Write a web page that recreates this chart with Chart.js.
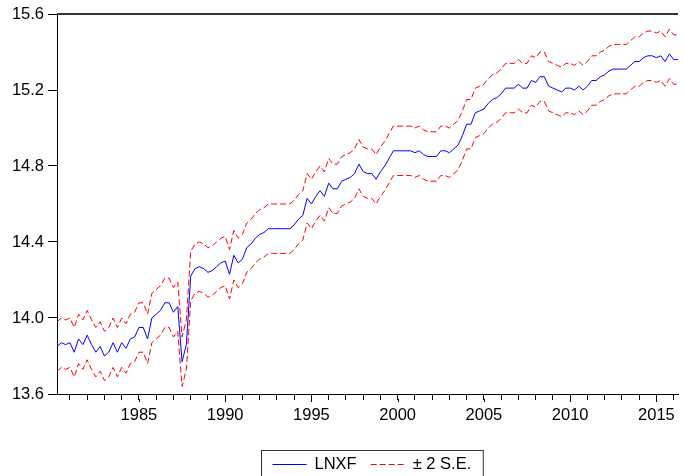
<!DOCTYPE html>
<html>
<head>
<meta charset="utf-8">
<title>LNXF forecast</title>
<script src="https://cdn.jsdelivr.net/npm/chart.js@4.4.1/dist/chart.umd.min.js"></script>
<style>
  html, body { margin: 0; padding: 0; background: #fff; }
  canvas { display: block; }
</style>
</head>
<body>
<canvas id="chart" width="684" height="476"></canvas>
<script>
// ── Data ────────────────────────────────────────────────────────────────────
// quarterly sample 1980Q2 .. 2016Q2
const firstYear = 1980, firstQ = 2, lastYear = 2016, lastQ = 2;
const quarters = [];
for (let y = firstYear, q = firstQ; y < lastYear || (y === lastYear && q <= lastQ);) {
    quarters.push(y + 'Q' + q);
    if (++q > 4) { q = 1; y++; }
}

const lnxf = [
    13.85, 13.87, 13.86, 13.87, 13.82, 13.89, 13.86, 13.91, 13.86, 13.82,
    13.85, 13.80, 13.82, 13.87, 13.82, 13.87, 13.84, 13.89, 13.90, 13.95,
    13.95, 13.89, 14.00, 14.02, 14.04, 14.08, 14.08, 14.03, 14.06, 13.77,
    13.86, 14.22, 14.26, 14.27, 14.26, 14.24, 14.25, 14.27, 14.29, 14.30,
    14.23, 14.33, 14.29, 14.31, 14.37, 14.39, 14.42, 14.44, 14.45, 14.47,
    14.47, 14.47, 14.47, 14.47, 14.47, 14.49, 14.52, 14.54, 14.63, 14.60,
    14.64, 14.67, 14.64, 14.71, 14.68, 14.68, 14.72, 14.73, 14.74, 14.76,
    14.81, 14.77, 14.76, 14.76, 14.73, 14.77, 14.80, 14.84, 14.88, 14.88,
    14.88, 14.88, 14.88, 14.87, 14.88, 14.86, 14.85, 14.85, 14.85, 14.88,
    14.88, 14.87, 14.89, 14.91, 14.96, 15.02, 15.02, 15.08, 15.09, 15.10,
    15.13, 15.15, 15.16, 15.18, 15.21, 15.21, 15.21, 15.23, 15.21, 15.21,
    15.25, 15.24, 15.27, 15.27, 15.22, 15.21, 15.20, 15.19, 15.21, 15.21,
    15.20, 15.22, 15.20, 15.22, 15.25, 15.25, 15.27, 15.28, 15.30, 15.31,
    15.31, 15.31, 15.31, 15.33, 15.35, 15.35, 15.37, 15.38, 15.38, 15.37,
    15.38, 15.35, 15.39, 15.36, 15.36
];

const upperBand = [
    13.98, 14.00, 13.99, 14.00, 13.95, 14.02, 13.99, 14.04, 13.99, 13.95,
    13.98, 13.93, 13.95, 14.00, 13.95, 14.00, 13.97, 14.02, 14.03, 14.08,
    14.08, 14.02, 14.13, 14.15, 14.17, 14.21, 14.21, 14.16, 14.19, 13.90,
    13.99, 14.35, 14.39, 14.40, 14.39, 14.37, 14.38, 14.40, 14.42, 14.43,
    14.36, 14.46, 14.42, 14.44, 14.50, 14.52, 14.55, 14.57, 14.58, 14.60,
    14.60, 14.60, 14.60, 14.60, 14.60, 14.62, 14.65, 14.67, 14.76, 14.73,
    14.77, 14.80, 14.77, 14.84, 14.81, 14.81, 14.85, 14.86, 14.87, 14.89,
    14.94, 14.90, 14.89, 14.89, 14.86, 14.90, 14.93, 14.97, 15.01, 15.01,
    15.01, 15.01, 15.01, 15.00, 15.01, 14.99, 14.98, 14.98, 14.98, 15.01,
    15.01, 15.00, 15.02, 15.04, 15.09, 15.15, 15.15, 15.21, 15.22, 15.23,
    15.26, 15.28, 15.29, 15.31, 15.34, 15.34, 15.34, 15.36, 15.34, 15.34,
    15.38, 15.37, 15.40, 15.40, 15.35, 15.34, 15.33, 15.32, 15.34, 15.34,
    15.33, 15.35, 15.33, 15.35, 15.38, 15.38, 15.40, 15.41, 15.43, 15.44,
    15.44, 15.44, 15.44, 15.46, 15.48, 15.48, 15.50, 15.51, 15.51, 15.50,
    15.51, 15.48, 15.52, 15.49, 15.49
];

const lowerBand = [
    13.72, 13.74, 13.73, 13.74, 13.69, 13.76, 13.73, 13.78, 13.73, 13.69,
    13.72, 13.67, 13.69, 13.74, 13.69, 13.74, 13.71, 13.76, 13.77, 13.82,
    13.82, 13.76, 13.87, 13.89, 13.91, 13.95, 13.95, 13.90, 13.93, 13.64,
    13.73, 14.09, 14.13, 14.14, 14.13, 14.11, 14.12, 14.14, 14.16, 14.17,
    14.10, 14.20, 14.16, 14.18, 14.24, 14.26, 14.29, 14.31, 14.32, 14.34,
    14.34, 14.34, 14.34, 14.34, 14.34, 14.36, 14.39, 14.41, 14.50, 14.47,
    14.51, 14.54, 14.51, 14.58, 14.55, 14.55, 14.59, 14.60, 14.61, 14.63,
    14.68, 14.64, 14.63, 14.63, 14.60, 14.64, 14.67, 14.71, 14.75, 14.75,
    14.75, 14.75, 14.75, 14.74, 14.75, 14.73, 14.72, 14.72, 14.72, 14.75,
    14.75, 14.74, 14.76, 14.78, 14.83, 14.89, 14.89, 14.95, 14.96, 14.97,
    15.00, 15.02, 15.03, 15.05, 15.08, 15.08, 15.08, 15.10, 15.08, 15.08,
    15.12, 15.11, 15.14, 15.14, 15.09, 15.08, 15.07, 15.06, 15.08, 15.08,
    15.07, 15.09, 15.07, 15.09, 15.12, 15.12, 15.14, 15.15, 15.17, 15.18,
    15.18, 15.18, 15.18, 15.20, 15.22, 15.22, 15.24, 15.25, 15.25, 15.24,
    15.25, 15.22, 15.26, 15.23, 15.23
];

const yTicks = [13.6, 14.0, 14.4, 14.8, 15.2, 15.6];

// ── Plugins ─────────────────────────────────────────────────────────────────

const FONT = "'Liberation Sans', Arial, sans-serif";

const isMajor = lbl => lbl.endsWith('Q1') && parseInt(lbl, 10) % 5 === 0;

// top frame line + slightly longer ticks at the labelled years
const frame = {
    id: 'frame',
    afterDraw(chart) {
        const { ctx, chartArea: a } = chart;
        const xs = chart.scales.x;
        ctx.save();
        ctx.strokeStyle = '#333';
        ctx.lineWidth = 2;
        ctx.beginPath();
        ctx.moveTo(a.left, a.top);
        ctx.lineTo(a.right, a.top);
        ctx.stroke();

        ctx.strokeStyle = '#000';
        ctx.lineWidth = 1;
        ctx.beginPath();
        quarters.forEach((q, i) => {
            if (!isMajor(q)) return;
            const px = Math.round(xs.getPixelForValue(i)) + 0.5;
            ctx.moveTo(px, a.bottom + 5);
            ctx.lineTo(px, a.bottom + 8);
        });
        ctx.stroke();
        ctx.restore();
    }
};

// boxed legend under the axis, one entry per visible label
const boxLegend = {
    id: 'boxLegend',
    afterDraw(chart) {
        const { ctx, chartArea: a } = chart;
        const items = chart.data.datasets.filter(d => !d.noLegend);
        const sample = 34, gap = 8, itemGap = 14, padL = 11, padR = 12;

        ctx.save();
        ctx.font = '16.5px ' + FONT;
        let w = padL + padR;
        items.forEach((d, i) => { w += sample + gap + ctx.measureText(d.label).width + (i ? itemGap : 0); });

        const left = Math.round((a.left + a.right - w) / 2) + 4.5;
        const top  = a.bottom + 56.5;
        const midY = top + 14;

        ctx.strokeStyle = '#333';
        ctx.lineWidth = 1;
        ctx.strokeRect(left, top, w, 60);

        let x = left + padL;
        items.forEach((d, i) => {
            if (i) x += itemGap;
            ctx.strokeStyle = d.borderColor;
            ctx.setLineDash(d.borderDash || []);
            ctx.beginPath();
            ctx.moveTo(x, midY);
            ctx.lineTo(x + sample, midY);
            ctx.stroke();
            ctx.setLineDash([]);
            x += sample + gap;
            ctx.fillStyle = '#000';
            ctx.textBaseline = 'middle';
            ctx.fillText(d.label, x, midY);
            x += ctx.measureText(d.label).width;
        });
        ctx.restore();
    }
};

// ── Chart ───────────────────────────────────────────────────────────────────

Chart.defaults.font.family = FONT;
Chart.defaults.font.size = 16.5;
Chart.defaults.color = '#000';

const line = (label, data, color, dash, extra) => ({
    label, data,
    borderColor: color,
    borderWidth: 1,
    borderDash: dash,
    pointRadius: 0,
    tension: 0,
    fill: false,
    ...extra
});

new Chart(document.getElementById('chart'), {
    type: 'line',
    data: {
        labels: quarters,
        datasets: [
            line('LNXF', lnxf, '#0000ff', []),
            line('\u00b1 2 S.E.', upperBand, '#ff0000', [6, 3]),
            line('\u00b1 2 S.E.', lowerBand, '#ff0000', [6, 3], { noLegend: true })
        ]
    },
    options: {
        responsive: false,
        animation: false,
        layout: { padding: { top: 14, right: 0, left: 0, bottom: 0 } },
        scales: {
            x: {
                type: 'category',
                offset: false,
                afterFit: s => { s.height = 82; },
                border: { color: '#000', width: 1 },
                grid: {
                    drawOnChartArea: false,
                    drawTicks: true,
                    tickLength: 6,
                    tickColor: c => (quarters[c.index] || '').endsWith('Q1') ? '#000' : 'rgba(0,0,0,0)'
                },
                ticks: {
                    autoSkip: false,
                    maxRotation: 0,
                    padding: 6,
                    callback(v) {
                        const lbl = this.getLabelForValue(v);
                        return isMajor(lbl) ? String(parseInt(lbl, 10)) : '';
                    }
                }
            },
            y: {
                min: 13.6,
                max: 15.6,
                afterFit: s => { s.width = 57; },
                afterBuildTicks: s => { s.ticks = yTicks.map(v => ({ value: v })); },
                border: { color: '#000', width: 1 },
                grid: { drawOnChartArea: false, drawTicks: true, tickLength: 9, tickColor: '#000' },
                ticks: { padding: 4, callback: v => v.toFixed(1) }
            }
        },
        plugins: {
            legend:  { display: false },
            tooltip: { enabled: false }
        }
    },
    plugins: [frame, boxLegend]
});
</script>
</body>
</html>
